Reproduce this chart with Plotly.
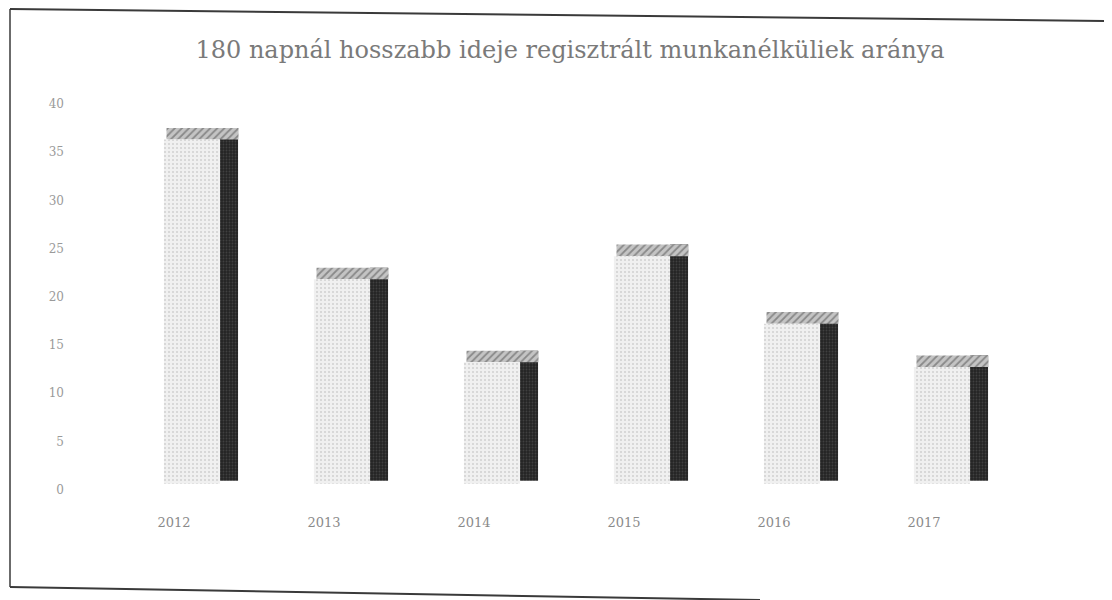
import plotly.graph_objects as go

years = ["2012", "2013", "2014", "2015", "2016", "2017"]
values = [35.7, 21.2, 12.6, 23.6, 16.6, 12.1]
y_ticks = [0, 5, 10, 15, 20, 25, 30, 35, 40]
title = "180 napnál hosszabb ideje regisztrált munkanélküliek aránya"

depth = 1.2          # visual depth of the pseudo-3D top face, in axis units
label_shift = 0.62   # value-axis labels sit slightly below the bar floor (3-D wall effect)

W, H = 1112, 600
L, R, T, B = 91, 121, 90, 105
PW, PH = W - L - R, H - T - B


def px(x, y):
    """page pixel -> paper coords (page has an 8px body margin)"""
    return (x - 8 - L) / PW, (H - B - (y - 8)) / PH


fig = go.Figure()

# dark side face
fig.add_trace(go.Bar(
    x=years, y=[v + depth - 0.3 for v in values], base=[0.3] * len(values),
    width=0.12, offset=0.307,
    marker=dict(color="#2b2b2b", line=dict(width=0),
                pattern=dict(shape=".", fgcolor="#5c5c5c", bgcolor="#242424", size=3, solidity=0.3)),
    hoverinfo="skip", showlegend=False,
))
# top face
fig.add_trace(go.Bar(
    x=years, y=[depth] * len(values), base=values,
    width=0.48, offset=-0.05,
    marker=dict(color="#9a9a9a", line=dict(width=0),
                pattern=dict(shape="/", fgcolor="#4e4e4e", bgcolor="#c4c4c4", size=5, solidity=0.35)),
    hoverinfo="skip", showlegend=False,
))
# front face
fig.add_trace(go.Bar(
    x=years, y=values,
    width=0.373, offset=-0.067,
    marker=dict(color="#ececec", line=dict(width=0),
                pattern=dict(shape=".", fgcolor="#b4b4b4", bgcolor="#f0f0f0", size=4, solidity=0.22)),
    name="arány", showlegend=False,
))

# scanned frame (decoration)
x0, y0 = px(10, 9)
x1, y1 = px(1112, 21)
x2, y2 = px(10, 587)
x3, y3 = px(760, 600)
frame = [
    dict(type="line", xref="paper", yref="paper", x0=x0, y0=y0, x1=x1, y1=y1,
         line=dict(color="#3a3a3a", width=2)),
    dict(type="line", xref="paper", yref="paper", x0=x0, y0=y0, x1=x2, y1=y2,
         line=dict(color="#3a3a3a", width=1.5)),
    dict(type="line", xref="paper", yref="paper", x0=x2, y0=y2, x1=x3, y1=y3,
         line=dict(color="#3a3a3a", width=2)),
]

fig.update_layout(
    width=W, height=H,
    paper_bgcolor="white", plot_bgcolor="white",
    barmode="overlay",
    margin=dict(l=L, r=R, t=T, b=B),
    title=dict(text=title, x=(570 - 8) / W, xref="container", xanchor="center",
               y=1 - (50 - 8) / H, yref="container", yanchor="middle",
               font=dict(family="DejaVu Serif, Liberation Serif, serif", size=24, color="#7a7a7a")),
    xaxis=dict(showgrid=False, showline=False, ticks="", zeroline=False,
               ticklabelstandoff=10,
               tickfont=dict(family="DejaVu Serif, serif", size=13, color="#8a8a8a")),
    yaxis=dict(range=[-2, 40], tickvals=[v - label_shift for v in y_ticks],
               ticktext=[str(v) for v in y_ticks],
               showgrid=False, showline=False, zeroline=False,
               ticks="", ticklabelstandoff=34,
               tickfont=dict(family="DejaVu Serif, serif", size=12, color="#9a9a9a")),
    shapes=frame,
)

fig.write_html("out.html")
